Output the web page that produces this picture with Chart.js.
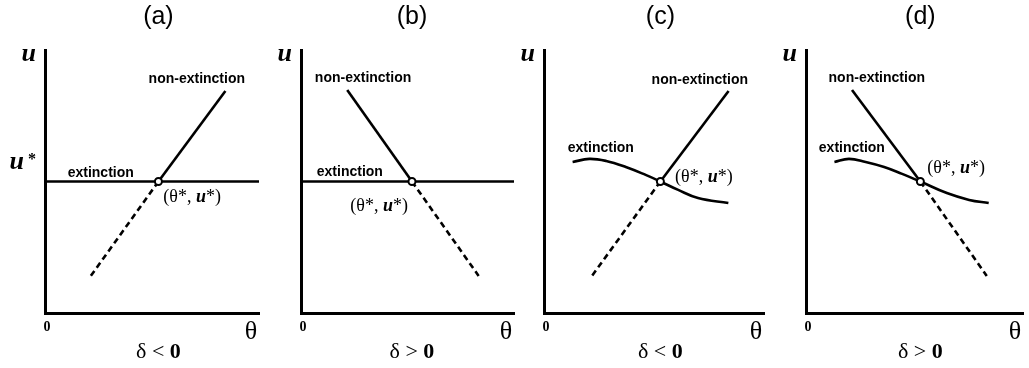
<!DOCTYPE html>
<html>
<head>
<meta charset="utf-8">
<script src="https://cdn.jsdelivr.net/npm/chart.js@4"></script>
<style>
  html, body { margin: 0; padding: 0; background: #fff; }
  #wrap { position: relative; width: 1029px; height: 368px; overflow: hidden; background: #fff; }
  #wrap canvas { position: absolute; top: 0; }
</style>
</head>
<body>
<div id="wrap">
  <canvas id="c0" width="265" height="368" style="left:0px"></canvas>
  <canvas id="c1" width="255" height="368" style="left:265px"></canvas>
  <canvas id="c2" width="252" height="368" style="left:518px"></canvas>
  <canvas id="c3" width="259" height="368" style="left:770px"></canvas>
</div>
<script>
// ---------- data ----------
const panelTitles = ['(a)', '(b)', '(c)', '(d)'];
const deltaSigns = ['<', '>', '<', '>'];
const uStar = 5;
const thetaStar = [5.30, 5.21, 5.29, 5.27];
const nonExtEndX = [8.43, 2.17, 8.39, 2.12];
const nonExtEndY = [8.44, 8.48, 8.44, 8.48];
const unstableEndX = [2.07, 8.34, 2.11, 8.33];
const unstableEndY = [1.33, 1.41, 1.33, 1.41];
// extinction branch: flat in (a),(b), curved in (c),(d)
const flatExtX = [0, 10];
const flatExtY = [5, 5];
const curveExtXc = [1.30, 2.06, 2.83, 3.72, 4.62, 5.29, 6.10, 7.00, 8.38];
const curveExtYc = [5.74, 5.86, 5.78, 5.55, 5.25, 5.00, 4.68, 4.37, 4.18];
const curveExtXd = [1.31, 1.98, 2.75, 3.60, 4.40, 5.27, 6.49, 7.52, 8.42];
const curveExtYd = [5.74, 5.86, 5.74, 5.55, 5.30, 5.00, 4.56, 4.30, 4.18];
const axisMin = 0, axisMax = 10;

// ---------- layout (positions / styles) ----------
const paddings = [
  { left: 45, right: 3, top: 50, bottom: 55 },
  { left: 36, right: 2, top: 50, bottom: 55 },
  { left: 26, right: 3, top: 50, bottom: 55 },
  { left: 36, right: 1, top: 50, bottom: 55 }
];
// label anchors in data coordinates
const nonExtLabel = [[4.84, 8.90], [0.65, 8.94], [4.89, 8.86], [1.04, 8.94]];
const extLabel = [[1.06, 5.32], [0.74, 5.36], [1.08, 6.27], [0.59, 6.27]];
const starLabel = [[5.53, 4.41, 'left'], [5.02, 4.07, 'right'], [5.96, 5.17, 'left'], [5.59, 5.51, 'left']];

const SANS = '"Liberation Sans", Arial, sans-serif';
const SERIF = '"Liberation Serif", "Times New Roman", serif';

function zip(xs, ys) { return xs.map((x, i) => ({ x: x, y: ys[i] })); }

function drawSegs(ctx, segs, x, y, align) {
  let total = 0;
  segs.forEach(s => { ctx.font = s.font; s.w = ctx.measureText(s.t).width; total += s.w; });
  let cx = align === 'right' ? x - total : (align === 'center' ? x - total / 2 : x);
  ctx.textAlign = 'left';
  ctx.textBaseline = 'middle';
  segs.forEach(s => {
    ctx.font = s.font;
    ctx.fillText(s.t, cx, y + (s.dy || 0));
    cx += s.w;
  });
}

function makeTextPlugin(i) {
  return {
    id: 'texts' + i,
    afterDraw(chart) {
      const ctx = chart.ctx;
      const xs = chart.scales.x, ys = chart.scales.y;
      const a = chart.chartArea;
      const sx = xs.getPixelForValue(thetaStar[i]);
      const sy = ys.getPixelForValue(uStar);
      ctx.save();
      ctx.fillStyle = '#000';
      // panel title
      drawSegs(ctx, [{ t: panelTitles[i], font: '25px ' + SANS }], sx, 17, 'center');
      // y-axis symbol u
      drawSegs(ctx, [{ t: 'u', font: 'italic bold 26px ' + SERIF }], a.left - 9, a.top + 4, 'right');
      if (i === 0) {
        drawSegs(ctx, [
          { t: 'u', font: 'italic bold 26px ' + SERIF },
          { t: ' *', font: 'bold 16px ' + SERIF, dy: -3 }
        ], a.left - 9, sy - 19, 'right');
      }
      // origin 0 and theta
      drawSegs(ctx, [{ t: '0', font: 'bold 14px ' + SERIF }], a.left + 2, a.bottom + 14, 'center');
      drawSegs(ctx, [{ t: 'θ', font: '26px ' + SERIF }], a.right - 8, a.bottom + 19, 'center');
      // delta condition
      drawSegs(ctx, [
        { t: 'δ ', font: '22px ' + SERIF },
        { t: deltaSigns[i] + ' ', font: '22px ' + SERIF },
        { t: '0', font: 'bold 22px ' + SERIF }
      ], sx, a.bottom + 39, 'center');
      // branch labels
      drawSegs(ctx, [{ t: 'non-extinction', font: 'bold 14px ' + SANS }],
        xs.getPixelForValue(nonExtLabel[i][0]), ys.getPixelForValue(nonExtLabel[i][1]), 'left');
      drawSegs(ctx, [{ t: 'extinction', font: 'bold 14px ' + SANS }],
        xs.getPixelForValue(extLabel[i][0]), ys.getPixelForValue(extLabel[i][1]), 'left');
      drawSegs(ctx, [
        { t: '(θ*, ', font: '18px ' + SERIF },
        { t: 'u', font: 'italic bold 18px ' + SERIF },
        { t: '*)', font: '18px ' + SERIF }
      ], xs.getPixelForValue(starLabel[i][0]), ys.getPixelForValue(starLabel[i][1]), starLabel[i][2]);
      ctx.restore();
    }
  };
}

for (let i = 0; i < 4; i++) {
  const curved = i >= 2;
  const extData = curved
    ? (i === 2 ? zip(curveExtXc, curveExtYc) : zip(curveExtXd, curveExtYd))
    : zip(flatExtX, flatExtY);
  const datasets = [
    {
      label: 'critical point',
      data: [{ x: thetaStar[i], y: uStar }],
      showLine: false,
      pointRadius: 3.5,
      pointBorderWidth: 2,
      pointBackgroundColor: '#fff',
      pointBorderColor: '#000'
    },
    {
      label: 'non-extinction',
      data: [{ x: thetaStar[i], y: uStar }, { x: nonExtEndX[i], y: nonExtEndY[i] }],
      showLine: true,
      borderColor: '#000', borderWidth: 2.6, pointRadius: 0, tension: 0
    },
    {
      label: 'unstable',
      data: [{ x: thetaStar[i], y: uStar }, { x: unstableEndX[i], y: unstableEndY[i] }],
      showLine: true,
      borderColor: '#000', borderWidth: 2.6, borderDash: [6, 4], pointRadius: 0, tension: 0
    },
    {
      label: 'extinction',
      data: extData,
      showLine: true,
      borderColor: '#000', borderWidth: 2.6, pointRadius: 0,
      tension: curved ? 0.4 : 0
    }
  ];
  new Chart(document.getElementById('c' + i), {
    type: 'scatter',
    data: { datasets: datasets },
    options: {
      responsive: false,
      animation: false,
      devicePixelRatio: 1,
      layout: { padding: paddings[i] },
      plugins: { legend: { display: false }, tooltip: { enabled: false }, title: { display: false } },
      elements: { line: { borderCapStyle: 'butt' } },
      scales: {
        x: {
          type: 'linear', min: axisMin, max: axisMax,
          ticks: { display: false },
          grid: { display: false, drawTicks: false },
          border: { display: true, width: 3, color: '#000' }
        },
        y: {
          type: 'linear', min: axisMin, max: axisMax,
          ticks: { display: false },
          grid: { display: false, drawTicks: false },
          border: { display: true, width: 3, color: '#000' }
        }
      }
    },
    plugins: [makeTextPlugin(i)]
  });
}
</script>
</body>
</html>
